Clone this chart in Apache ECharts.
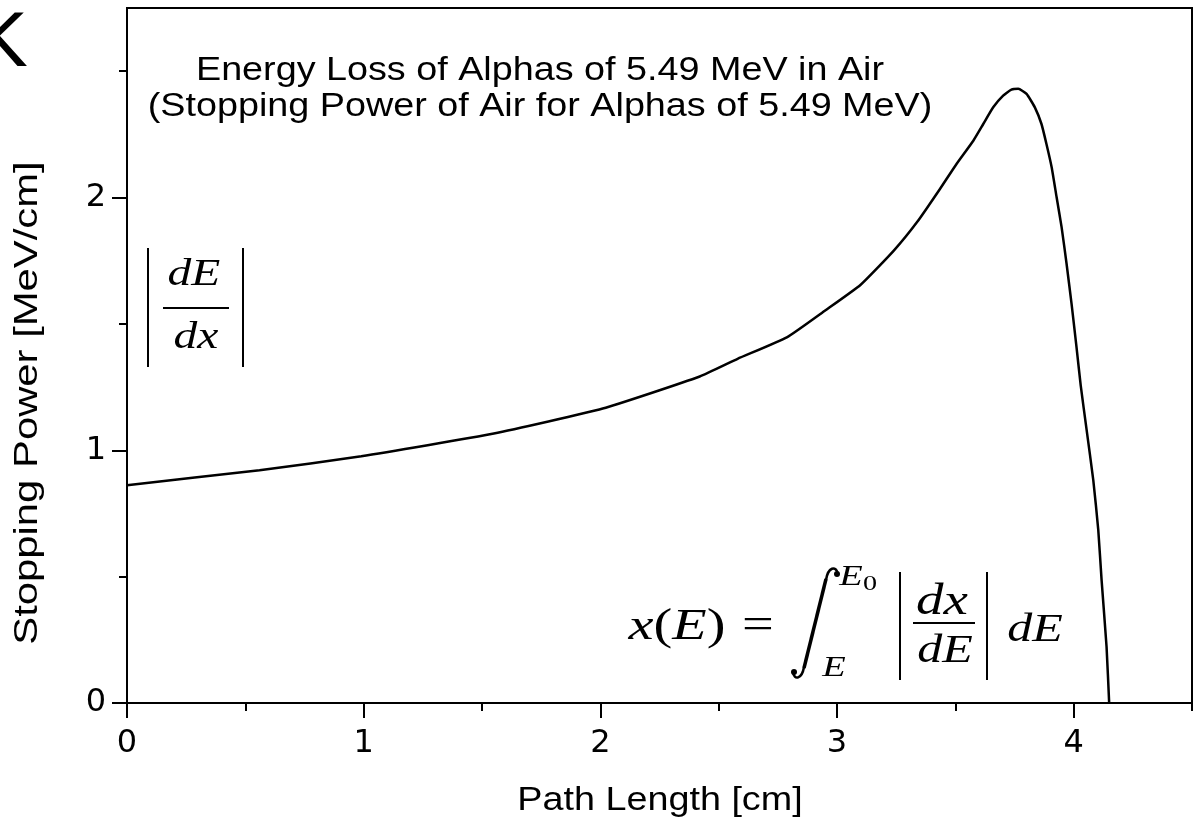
<!DOCTYPE html>
<html>
<head>
<meta charset="utf-8">
<script src="https://cdn.jsdelivr.net/npm/echarts@6/dist/echarts.min.js"></script>
<style>
  html, body { margin: 0; padding: 0; background: #fff; }
  #chart { width: 1195px; height: 828px; }
</style>
</head>
<body>
<div id="chart"></div>
<script>
// Stopping power of air for 5.49 MeV alphas along the path (Bragg curve)
const pathLength = [0, 0.56, 0.99, 1.55, 2.01, 2.42, 2.58, 2.79, 2.95, 3.10, 3.24, 3.34,
  3.435, 3.505, 3.576, 3.618, 3.66, 3.702, 3.737, 3.766, 3.801, 3.836, 3.864, 3.885,
  3.907, 3.928, 3.949, 3.97, 3.991, 4.012, 4.03, 4.055, 4.083, 4.104, 4.118, 4.139, 4.15];
const stoppingPower = [0.862, 0.921, 0.976, 1.066, 1.165, 1.292, 1.362, 1.448, 1.553, 1.655, 1.79, 1.905,
  2.034, 2.133, 2.225, 2.291, 2.357, 2.403, 2.427, 2.430, 2.410, 2.357, 2.291, 2.212,
  2.120, 2.001, 1.883, 1.738, 1.580, 1.408, 1.255, 1.079, 0.881, 0.684, 0.486, 0.222, 0];

const xMajorTicks = [0, 1, 2, 3, 4];
const xMinorTicks = [0.5, 1.5, 2.5, 3.5, 4.5];
const yMajorTicks = [0, 1, 2];
const yMinorTicks = [0.5, 1.5, 2.5];

const titleLines = ['Energy Loss of Alphas of 5.49 MeV in Air',
                    '(Stopping Power of Air for Alphas of 5.49 MeV)'];
const xName = 'Path Length [cm]';
const yName = 'Stopping Power [MeV/cm]';

const X_RANGE = [0, 4.5];
const Y_RANGE = [0, 2.75];

const SANS = '"Liberation Sans", Arial, sans-serif';
const SERIF = '"Liberation Serif", "Times New Roman", serif';
const WIDE = 1.11;   // horizontal stretch of the lettering

const chart = echarts.init(document.getElementById('chart'), null, { renderer: 'canvas' });

function majorAxis(range, ticks, isX) {
  return {
    type: 'value', min: range[0], max: range[1],
    position: isX ? 'bottom' : 'left',
    axisLine: { show: true, lineStyle: { color: '#000', width: 2 } },
    axisTick: { show: true, inside: false, length: 15, customValues: ticks,
                lineStyle: { color: '#000', width: 2 } },
    axisLabel: { show: true, customValues: ticks, color: '#000',
                 fontFamily: '"DejaVu Sans", sans-serif', fontSize: 32,
                 margin: isX ? 25 : 21 },
    splitLine: { show: false }
  };
}
function minorAxis(range, ticks, isX) {
  return {
    type: 'value', min: range[0], max: range[1],
    position: isX ? 'bottom' : 'left',
    axisLine: { show: false },
    axisTick: { show: true, inside: false, length: 8, customValues: ticks,
                lineStyle: { color: '#000', width: 2 } },
    axisLabel: { show: false },
    splitLine: { show: false }
  };
}

function txt(text, x, y, size, opts) {
  opts = opts || {};
  return {
    type: 'text', x: x, y: y, scaleX: opts.scaleX || WIDE, rotation: opts.rotation || 0,
    z: 10,
    style: {
      text: text, fill: '#000', fontSize: size,
      fontFamily: opts.family || SANS, fontStyle: opts.italic ? 'italic' : 'normal',
      align: opts.align || 'center', verticalAlign: 'middle', rich: opts.rich
    }
  };
}
function seg(x1, y1, x2, y2, w) {
  return { type: 'line', z: 10, shape: { x1: x1, y1: y1, x2: x2, y2: y2 },
           style: { stroke: '#000', lineWidth: w || 2 } };
}
const mathRich = {
  i: { fontFamily: SERIF, fontStyle: 'italic', fontSize: 44, fill: '#000' },
  r: { fontFamily: SERIF, fontSize: 44, fill: '#000' }
};

const graphics = [
  // panel letter
  txt('K', 28, 44, 78, { align: 'right', scaleX: 1.05 }),
  // heading inside the plot
  txt(titleLines[0], 540, 71, 34),
  txt(titleLines[1], 540, 107, 34),
  // axis names
  txt(xName, 660, 801, 34),
  txt(yName, 28, 403, 34, { rotation: Math.PI / 2, scaleX: 1.23 }),

  // |dE/dx|
  seg(148, 248, 148, 367, 2),
  seg(243, 248, 243, 367, 2),
  txt('dE', 194, 275, 38, { family: SERIF, italic: true, scaleX: 1.25 }),
  seg(163, 308, 229, 308, 2),
  txt('dx', 196, 338, 38, { family: SERIF, italic: true, scaleX: 1.25 }),

  // x(E) = ∫_E^{E0} |dx/dE| dE
  txt('{i|x}{r|(}{i|E}{r|)}', 677, 627, 44, { family: SERIF, rich: mathRich, scaleX: 1.28 }),
  txt('=', 758, 626, 44, { family: SERIF, scaleX: 1.28 }),
  { type: 'bezierCurve', z: 10, shape: { x1: 826, y1: 580, cpx1: 828, cpy1: 567, cpx2: 836, cpy2: 565, x2: 838, y2: 574 },
    style: { stroke: '#000', lineWidth: 2.5, fill: null } },
  seg(826, 579, 804, 668, 3.5),
  { type: 'bezierCurve', z: 10, shape: { x1: 804, y1: 667, cpx1: 802, cpy1: 679, cpx2: 794, cpy2: 681, x2: 793, y2: 672 },
    style: { stroke: '#000', lineWidth: 2.5, fill: null } },
  { type: 'circle', z: 10, shape: { cx: 837, cy: 574, r: 3 }, style: { fill: '#000' } },
  { type: 'circle', z: 10, shape: { cx: 794, cy: 672, r: 3 }, style: { fill: '#000' } },
  txt('E', 851, 577, 30, { family: SERIF, italic: true, scaleX: 1.28 }),
  txt('0', 870, 584, 22, { family: SERIF, scaleX: 1.28 }),
  txt('E', 834, 668, 30, { family: SERIF, italic: true, scaleX: 1.28 }),
  seg(900, 572, 900, 680, 2),
  seg(987, 572, 987, 680, 2),
  txt('dx', 942, 602, 44, { family: SERIF, italic: true, scaleX: 1.25 }),
  seg(913, 623, 975, 623, 2),
  txt('dE', 945, 651, 40, { family: SERIF, italic: true, scaleX: 1.25 }),
  txt('dE', 1035, 630, 40, { family: SERIF, italic: true, scaleX: 1.25 })
];

const option = {
  backgroundColor: '#fff',
  animation: false,
  grid: { left: 127, right: 3, top: 8, bottom: 125, show: true,
          borderColor: '#000', borderWidth: 2, backgroundColor: 'transparent' },
  xAxis: [majorAxis(X_RANGE, xMajorTicks, true), minorAxis(X_RANGE, xMinorTicks, true)],
  yAxis: [majorAxis(Y_RANGE, yMajorTicks, false), minorAxis(Y_RANGE, yMinorTicks, false)],
  series: [{
    type: 'line', xAxisIndex: 0, yAxisIndex: 0,
    data: pathLength.map((x, i) => [x, stoppingPower[i]]),
    showSymbol: false, symbol: 'none', smooth: 0.15,
    lineStyle: { color: '#000', width: 2.5 },
    clip: false
  }],
  graphic: graphics
};
chart.setOption(option);
</script>
</body>
</html>
